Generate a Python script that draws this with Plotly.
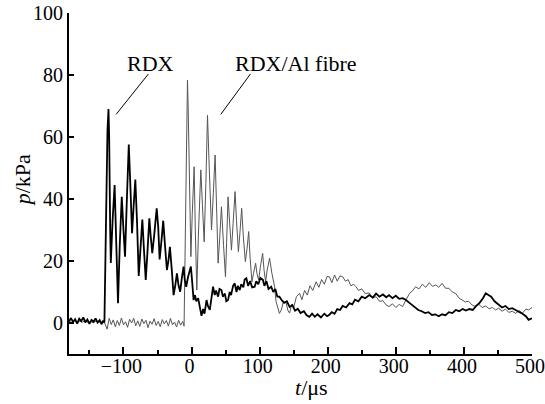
import plotly.graph_objects as go

# RDX (black) trace
rdx_t = [-180, -177, -174, -171, -168, -165, -162, -159, -156, -153, -150, -147, -144, -141, -138, -135, -132, -130, -128,
         -126, -123.5, -122, -121, -119.5, -118.6, -116, -113, -110.5, -108, -105.5, -102.5, -100, -97.7, -95, -92.2, -90,
         -87.4, -85, -82.6, -80, -77.6, -75, -72.3, -70, -67.3, -65, -62, -60, -57.7, -55, -51.2, -49, -46.9, -44, -41.6,
         -39, -36.2, -34, -31.8, -29, -26.4, -24, -21.5, -19, -16.7, -14, -11.7, -10, -7.9, -5, -3, -1, 1, 3, 5, 7, 9.7,
         12, 14.6, 17, 19, 22, 24, 26.8, 29, 31.6, 34, 36, 39, 41, 43.9, 46, 49, 51, 53.6, 56, 58, 61, 63.4, 66, 68, 70.7,
         73, 76, 78, 80.5, 83, 86, 89, 92.7, 95, 98, 101, 104.8, 107, 110, 113, 117, 120, 123, 126, 129, 132, 136, 140,
         144, 148, 152, 156, 160, 165, 169, 173, 177, 181, 185, 190, 195, 199, 202, 206, 210, 214, 218, 222, 227, 232,
         236, 240, 245, 250, 255, 261, 266, 271, 276, 281, 286, 290, 295, 300, 305, 310, 315, 320, 325, 329, 333, 338,
         343, 348, 353, 358, 363, 368, 373, 378, 383, 388, 393, 398, 403, 408, 413, 418, 423, 428, 432, 436, 440, 445,
         451, 456, 461, 466, 471, 476, 481, 486, 491, 495, 500]
rdx_p = [0.5, 1.6, 0.3, 1.2, -0.2, 1.4, 0.6, 1.8, 0.2, 1.1, -0.3, 1.0, 0.4, 1.5, 0.1, 0.9, -0.4, 0.6, 0.2,
         30, 62, 69, 60, 30, 19.4, 33, 44.5, 25, 6.4, 25, 40.7, 30, 21.4, 40, 57.6, 45,
         29, 38, 46.3, 32, 15.2, 24, 33.4, 24, 13.9, 22, 33.8, 28, 22.5, 28, 37, 31, 20.5, 27, 33,
         25, 17.1, 20, 24.6, 17, 9, 12, 16, 12, 10.1, 15, 18.2, 14, 11.7, 15, 17, 18.2, 13, 7.4, 9, 7, 8,
         5, 2.3, 4.5, 3, 7.4, 5.5, 4.2, 7, 11.7, 9, 10.5, 8.5, 11, 10.6, 8.5, 9.5, 7, 7.4, 10, 9, 12, 12.8, 10, 12, 10.6,
         12.5, 11.5, 14, 14.4, 12, 13.5, 11.5, 11.7, 13.5, 12.5, 14.5, 13.9, 12, 13.5, 11, 11.7, 10, 11, 8.5, 8.5, 7.5, 6.5, 7,
         5.2, 5.8, 4, 4.6, 3.2, 3.8, 2.5, 2, 3, 2, 2.8, 1.8, 3, 2.2, 2.6, 3.5, 3, 4.5, 4.2, 5.5, 5, 6.4,
         6, 7.5, 7, 8.5, 8, 9, 8.2, 9.5, 8.5, 9.2, 8.3, 9, 8, 8.8, 7.8, 8, 7.4, 6.5, 5.5, 4.7, 4.2, 3.8,
         3.2, 3.5, 2.6, 2.8, 2.2, 2.8, 2.5, 3.5, 3.2, 4.2, 3.8, 4.5, 4, 4.5, 4.2, 5.5, 6.5, 8, 9.6, 9, 8.5, 7,
         5.8, 5, 5.5, 4.5, 4.8, 4.2, 3.8, 3, 2.2, 1, 1.5]

# RDX/Al fibre (grey) trace
al_t = [-180, -176, -172, -168, -164, -160, -156, -152, -148, -144, -140, -136, -132, -128,
        -124, -121, -118, -115, -112, -109, -106, -103, -100, -97, -94, -91, -88, -85, -82, -79, -76, -73, -70, -67,
        -64, -61, -58, -55, -52, -49, -46, -43, -40, -37, -34, -31, -28, -25, -22, -19, -16, -13, -11,
        -9, -7, -6, -5, -3, -1, 1, 3.8, 5.5, 7.7, 10, 13.6, 16, 18.5, 21, 23.4, 26, 29.3, 32, 34.6, 37, 39, 41.5, 43.9,
        47, 49.8, 51.5, 53.6, 56, 58.6, 61, 63.9, 66, 68.8, 71, 73.6, 76, 79, 81.5, 83.9, 86, 88.7, 91, 94.1, 96, 98.5,
        101, 104.4, 106.5, 108.8, 111, 114.6, 118, 122, 124, 126, 129, 131.8, 135, 139, 141.5, 144, 147, 150, 154,
        158.6, 162, 166, 170, 174, 178, 183, 187, 191, 195, 199, 202.5, 206, 210, 214, 218, 222, 226, 230, 234, 238,
        241.6, 245, 250, 255, 261, 266, 271, 276, 281, 286, 290, 295, 300, 305, 310, 315, 320, 325, 329, 334, 339, 344,
        349, 354, 358.7, 363, 368, 373, 378, 383, 388, 393, 397.6, 402, 407, 412, 417, 422, 427, 432, 437, 442, 446.6,
        451, 456, 461, 466, 471, 476, 481, 486, 491, 495, 500]
al_p = [0.5, 0.2, 0.8, 0.1, 0.6, 0.3, 0.9, 0.2, 0.5, 0.1, 0.7, 0.3, 0.4, 0.2,
        -2, 1.5, -0.5, 1, -1.2, 0.8, -0.8, 1.6, -0.6, 0.4, -1.4, 1.2, 0, 1.5, -0.9, 0.7, -1.1, 1.3, -0.2, 0.9,
        -1.5, 0.6, -0.4, 1.4, -0.8, 0.5, -1.2, 1.1, -0.3, 0.8, -1.0, 1.5, -0.6, 0.3, -1.3, 0.9, -0.7, 0.5, -1,
        35, 70, 78.4, 70, 40, 21.4, 35, 50.4, 30, 10.6, 28, 49.4, 38, 26.2, 45, 67, 50, 30, 42, 54.2, 35, 19.3, 28, 37.5,
        25, 14.9, 26, 40.7, 32, 23.5, 32, 42.4, 33, 23, 29, 37, 28, 19.8, 24, 29.5, 21, 13.3, 16, 19.3, 16, 13.9,
        18, 22.5, 17, 13.3, 17, 20.9, 16, 11.7, 7, 5, 3.1, 4.2, 7, 6.4, 4, 3.2, 6, 5, 8.5,
        9.6, 7.5, 10.5, 9, 12, 10.5, 13.3, 11.5, 14, 12.5, 15, 14.9, 13, 15.5, 13.5, 15.2, 14.9, 13.5, 14, 12, 12.5,
        11.7, 10.5, 11, 9.5, 9.7, 8, 8.5, 7, 7.2, 5.8, 5.3, 6.2, 5, 6, 5.3, 7.5, 9.5, 10.5, 11.7, 11, 12.5, 11.5,
        13, 11.8, 12.3, 11.5, 12.8, 11.2, 11.2, 10, 9.5, 8, 7.4, 6.8, 7, 5.8, 5.3, 6, 5, 5.5, 4.6, 5, 4.2,
        4.8, 3.8, 4.5, 3.4, 3.8, 3.1, 4, 3.2, 4.5, 4.2, 5]

x_ticks = [-100, 0, 100, 200, 300, 400, 500]
y_ticks = [0, 20, 40, 60, 80, 100]

FONT = "Liberation Serif"

fig = go.Figure()
fig.add_trace(go.Scatter(x=al_t, y=al_p, mode="lines", name="RDX/Al fibre",
                         line=dict(color="#555555", width=1)))
fig.add_trace(go.Scatter(x=rdx_t, y=rdx_p, mode="lines", name="RDX",
                         line=dict(color="#000000", width=1.8)))

# label leader lines
fig.add_shape(type="line", x0=-63.5, y0=80.3, x1=-110.8, y1=67.3, line=dict(color="black", width=1))
fig.add_shape(type="line", x0=86.4, y0=80.3, x1=42.9, y1=67.3, line=dict(color="black", width=1))

fig.add_annotation(x=-61, y=83.7, text="RDX", showarrow=False, font=dict(family=FONT, size=22, color="black"))
fig.add_annotation(x=152.7, y=83.7, text="RDX/Al fibre", showarrow=False, font=dict(family=FONT, size=22, color="black"))

fig.add_annotation(xref="paper", yref="paper", x=-0.101, y=0.51, xanchor="center", yanchor="middle",
                   text="<i>p</i>/kPa", textangle=-90,
                   showarrow=False, font=dict(family=FONT, size=22, color="black"))
fig.add_annotation(xref="paper", yref="paper", x=0.523, y=-0.097, xanchor="center", yanchor="middle",
                   text="<i>t</i>/μs",
                   showarrow=False, font=dict(family=FONT, size=22, color="black"))

fig.update_layout(
    width=545, height=404,
    margin=dict(l=69, r=13, t=13, b=50, autoexpand=False),
    paper_bgcolor="white", plot_bgcolor="white",
    showlegend=False,
    font=dict(family=FONT, size=20, color="black"),
)
fig.update_xaxes(range=[-180, 500], tickvals=x_ticks, ticks="inside", ticklen=7, tickwidth=1.5,
                 tickcolor="black", showline=True, linecolor="black", linewidth=2, showgrid=False,
                 zeroline=False, automargin=False, ticklabeloverflow="allow", ticklabelstandoff=-7,
                 ticklabelshift=-2,
                 minor=dict(dtick=50, tick0=0, ticks="inside", ticklen=4, tickwidth=1.5,
                            tickcolor="black", showgrid=False))
fig.update_yaxes(range=[-10, 100], tickvals=y_ticks, ticks="inside", ticklen=5, tickwidth=1.5,
                 tickcolor="black", showline=True, linecolor="black", linewidth=2, showgrid=False,
                 zeroline=False, automargin=False, ticklabeloverflow="allow")

# remove the browser's default 8px body margin so the figure fills the window exactly
fig.write_html("out.html", config={"displayModeBar": False},
               post_script="document.body.style.margin='0px';document.body.style.overflow='hidden';")
